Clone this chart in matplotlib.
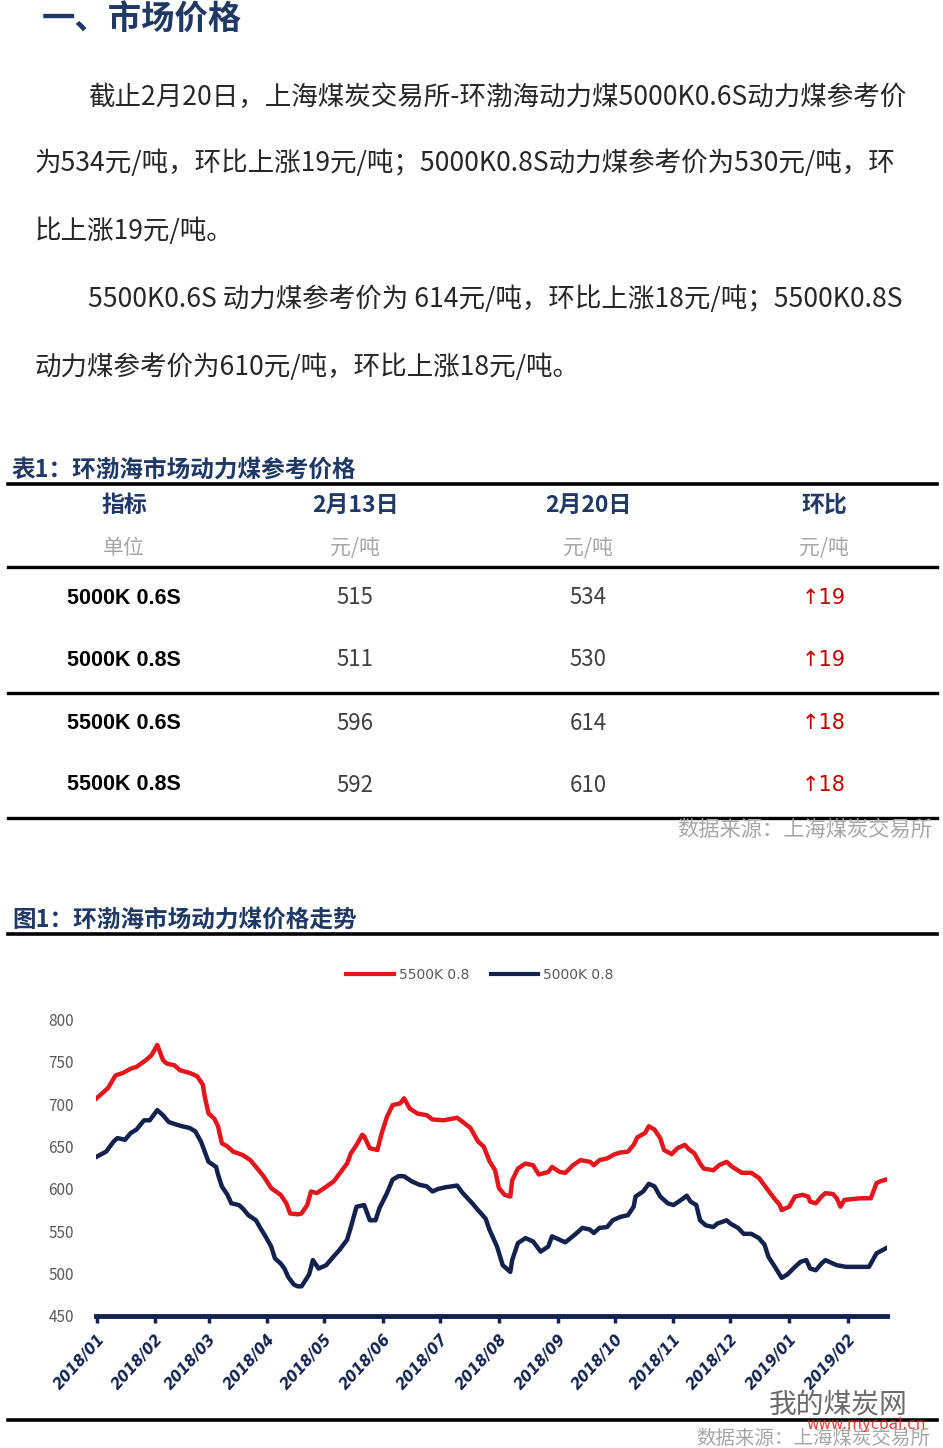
import matplotlib
matplotlib.use("Agg")
import matplotlib.pyplot as plt
import matplotlib.dates as mdates
from matplotlib.lines import Line2D
import pandas as pd

plt.rcParams['font.family'] = ['Noto Sans CJK SC', 'DejaVu Sans']

W, H = 943, 1448
NAVY = '#1F3864'
RED = '#E3161D'
LINE_NAVY = '#13214D'

# ---- data ----
page_title = '一、市场价格'
para_lines = [
    '截止2月20日，上海煤炭交易所-环渤海动力煤5000K0.6S动力煤参考价',
    '为534元/吨，环比上涨19元/吨；5000K0.8S动力煤参考价为530元/吨，环',
    '比上涨19元/吨。',
    '5500K0.6S 动力煤参考价为 614元/吨，环比上涨18元/吨；5500K0.8S',
    '动力煤参考价为610元/吨，环比上涨18元/吨。',
]

table_title = '表1：环渤海市场动力煤参考价格'
col_heads = ['指标', '2月13日', '2月20日', '环比']
col_units = ['单位', '元/吨', '元/吨', '元/吨']
row_names = ['5000K 0.6S', '5000K 0.8S', '5500K 0.6S', '5500K 0.8S']
price_prev = [515, 511, 596, 592]
price_now = [534, 530, 614, 610]
price_chg = [19, 19, 18, 18]
source_txt = '数据来源：上海煤炭交易所'

chart_title = '图1：环渤海市场动力煤价格走势'
series_names = ['5500K 0.8', '5000K 0.8']

# days after 2018-01-01, price (yuan/t)
red_days = [0, 6, 10, 14, 18, 21, 26, 29,
            32, 35, 37, 41, 44, 49, 53, 56, 57,
            59, 62, 64, 66, 69, 72, 77, 81, 84, 88,
            92, 97, 100, 102, 106, 108, 111, 113, 116,
            120, 125, 128, 132, 134, 137, 140, 141, 144, 148,
            150, 153, 156, 160, 162, 165, 169, 174, 177,
            183, 190, 193, 197, 201, 204, 207, 210,
            212, 215, 218, 219, 222, 226, 230, 233, 238, 240,
            244, 247, 251, 255, 260, 262, 265, 269,
            273, 276, 280, 283, 285, 289, 291, 294, 297, 299, 303,
            306, 310, 312, 315, 318, 320, 325, 328, 332,
            335, 340, 345, 349, 353, 357, 360, 361,
            365, 368, 372, 375, 376, 379, 382, 384, 388, 390, 392, 394,
            398, 403, 408, 411, 413, 416]
red_price = [707, 719, 734, 737, 742, 744, 752, 758,
             770, 752, 748, 746, 740, 737, 733, 723, 709,
             689, 683, 674, 654, 650, 644, 640, 634, 626, 615,
             601, 593, 583, 571, 570, 571, 581, 597, 595,
             601, 609, 618, 630, 642, 652, 664, 662, 648, 646,
             664, 685, 699, 701, 707, 695, 689, 687, 682,
             681, 684, 679, 672, 656, 650, 633, 622,
             601, 593, 591, 610, 624, 630, 628, 617, 620, 626,
             620, 619, 628, 634, 632, 628, 634, 636,
             641, 643, 644, 652, 661, 666, 674, 670, 660, 646, 641,
             648, 652, 647, 642, 630, 624, 622, 628, 632,
             626, 619, 619, 613, 601, 589, 581, 575,
             579, 591, 593, 591, 585, 583, 591, 595, 594, 589, 579, 587,
             588, 589, 589, 607, 609, 611]

blue_days = [0, 5, 9, 11, 15, 18, 21, 25, 28,
             32, 35, 38, 42, 45, 49, 52, 55, 57,
             59, 63, 64, 66, 69, 71, 75, 77, 80, 84, 86, 89,
             92, 94, 97, 99, 101, 104, 106, 108, 112, 114, 117,
             121, 124, 128, 132, 134, 137, 141, 144, 147, 149,
             153, 156, 159, 162, 166, 170, 174, 177, 180,
             184, 190, 193, 198, 201, 205, 207, 211,
             214, 218, 219, 222, 226, 230, 234, 238, 240,
             244, 247, 252, 256, 260, 262, 265, 269, 272,
             276, 280, 283, 284, 288, 291, 294, 297, 301,
             304, 308, 311, 313, 316, 318, 321, 325, 327, 332,
             334, 338, 341, 345, 349, 352, 354, 358, 361, 364,
             368, 371, 374, 376, 379, 382, 384, 390, 395,
             400, 407, 409, 411, 416]
blue_price = [638, 644, 656, 660, 658, 666, 670, 681, 681,
              693, 687, 679, 676, 674, 672, 668, 656, 644,
              632, 626, 617, 603, 593, 583, 581, 577, 569, 563, 555, 544,
              532, 518, 512, 506, 496, 487, 485, 485, 499, 516, 506,
              510, 518, 528, 540, 555, 579, 581, 563, 563, 577,
              595, 611, 615, 615, 609, 605, 603, 597, 600,
              602, 604, 595, 583, 575, 565, 552, 532,
              510, 502, 516, 536, 542, 538, 526, 532, 544,
              540, 537, 546, 554, 552, 548, 554, 555, 563,
              567, 569, 579, 591, 597, 606, 603, 591, 583,
              581, 587, 592, 585, 581, 563, 557, 555, 559, 563,
              559, 554, 547, 547, 542, 534, 520, 506, 495, 499,
              508, 514, 516, 506, 504, 512, 516, 510, 508,
              508, 508, 516, 524, 530]

y_ticks = [450, 500, 550, 600, 650, 700, 750, 800]


def fx(x):
    return x / W


def fy(y):
    return 1 - y / H


def hrule(fig, y, lw=2.2, x0=8, x1=937, color='black'):
    fig.add_artist(Line2D([fx(x0), fx(x1)], [fy(y), fy(y)], color=color,
                          linewidth=lw, transform=fig.transFigure))


fig = plt.figure(figsize=(W / 100, H / 100), dpi=100)
fig.patch.set_facecolor('white')

# page heading and paragraph
fig.text(fx(42), fy(20), page_title, fontsize=24, fontweight='bold',
         color=NAVY, va='center', ha='left')
para_x = [88, 35, 35, 88, 35]
para_y = [97, 163, 231, 299, 367]
for txt, x, y in zip(para_lines, para_x, para_y):
    fig.text(fx(x), fy(y), txt, fontsize=19.1, color='#262626',
             va='center', ha='left')

# table
fig.text(fx(12), fy(470), table_title, fontsize=17, fontweight='bold',
         color=NAVY, va='center', ha='left')
hrule(fig, 484, lw=2.6)
col_x = [124, 355, 588, 824]
for cx, head, unit in zip(col_x, col_heads, col_units):
    fig.text(fx(cx), fy(505), head, fontsize=16.5, fontweight='bold',
             color=NAVY, va='center', ha='center')
    fig.text(fx(cx), fy(548), unit, fontsize=15, color='#A6A6A6',
             va='center', ha='center')
hrule(fig, 567, lw=2.4)
row_y = [598, 660, 723, 785]
for name, p0, p1, d, ry in zip(row_names, price_prev, price_now, price_chg, row_y):
    fig.text(fx(col_x[0]), fy(ry), name, fontsize=15.5, fontweight='bold',
             family=['Liberation Sans', 'DejaVu Sans'], color='black',
             va='center', ha='center')
    fig.text(fx(col_x[1]), fy(ry), str(p0), fontsize=16, color='#404040',
             va='center', ha='center')
    fig.text(fx(col_x[2]), fy(ry), str(p1), fontsize=16, color='#404040',
             va='center', ha='center')
    fig.text(fx(col_x[3]), fy(ry), '↑' + str(d), fontsize=15, color='#C00000',
             family=['DejaVu Sans'], va='center', ha='center')
hrule(fig, 693, lw=2.4)
hrule(fig, 818, lw=2.4)
fig.text(fx(932), fy(830), source_txt, fontsize=15.3, color='#A6A6A6',
         va='center', ha='right')

# chart
fig.text(fx(12), fy(920), chart_title, fontsize=17, fontweight='bold',
         color=NAVY, va='center', ha='left')
hrule(fig, 934, lw=2.6)

start = pd.Timestamp('2018-01-01')
red_dates = start + pd.to_timedelta(red_days, unit='D')
blue_dates = start + pd.to_timedelta(blue_days, unit='D')

ax = fig.add_axes([fx(96), fy(1316), fx(887) - fx(96), (1316 - 1019.5) / H])
ax.plot(red_dates, red_price, color=RED, linewidth=3.2, label=series_names[0],
        solid_joinstyle='round')
ax.plot(blue_dates, blue_price, color=LINE_NAVY, linewidth=3.2,
        label=series_names[1], solid_joinstyle='round')

ax.set_xlim(start - pd.Timedelta(days=0.3), start + pd.Timedelta(days=416.5))
ax.set_ylim(450, 800)
ax.set_yticks(y_ticks)
ax.tick_params(axis='y', length=0, pad=16, labelsize=11, labelcolor='#595959')
for s in ['top', 'right', 'left']:
    ax.spines[s].set_visible(False)
ax.spines['bottom'].set_color(LINE_NAVY)
ax.spines['bottom'].set_linewidth(3.5)
ax.xaxis.set_major_locator(mdates.MonthLocator())
ax.xaxis.set_major_formatter(mdates.DateFormatter('%Y/%m'))
ax.tick_params(axis='x', direction='out', length=5, width=2.5, color=LINE_NAVY,
               pad=6)
for lab in ax.get_xticklabels():
    lab.set_rotation(48)
    lab.set_ha('right')
    lab.set_rotation_mode('anchor')
    lab.set_fontweight('bold')
    lab.set_fontstyle('italic')
    lab.set_color(LINE_NAVY)
    lab.set_fontsize(10.8)
    lab.set_family(['DejaVu Sans'])

leg = ax.legend(loc='center', bbox_to_anchor=(fx(480), fy(975)),
                bbox_transform=fig.transFigure, ncol=2, frameon=False,
                fontsize=10, handlelength=3.4, handletextpad=0.35,
                columnspacing=1.6)
for t in leg.get_texts():
    t.set_color('#595959')
    t.set_family(['DejaVu Sans'])
for h in leg.get_lines():
    h.set_linewidth(3)

# bottom rule, source and site mark
hrule(fig, 1420, lw=2.6)
fig.text(fx(930), fy(1438), source_txt, fontsize=14, color='#A6A6A6',
         va='center', ha='right')
fig.text(fx(769), fy(1404), '我的煤炭网', fontsize=20, color='#505050',
         va='center', ha='left', alpha=0.85)
fig.text(fx(926), fy(1424), 'www.mycoal.cn', fontsize=11, color='#D9261C',
         va='center', ha='right', family=['DejaVu Sans'], alpha=0.85)

fig.savefig('out.png', dpi=100, facecolor='white')
